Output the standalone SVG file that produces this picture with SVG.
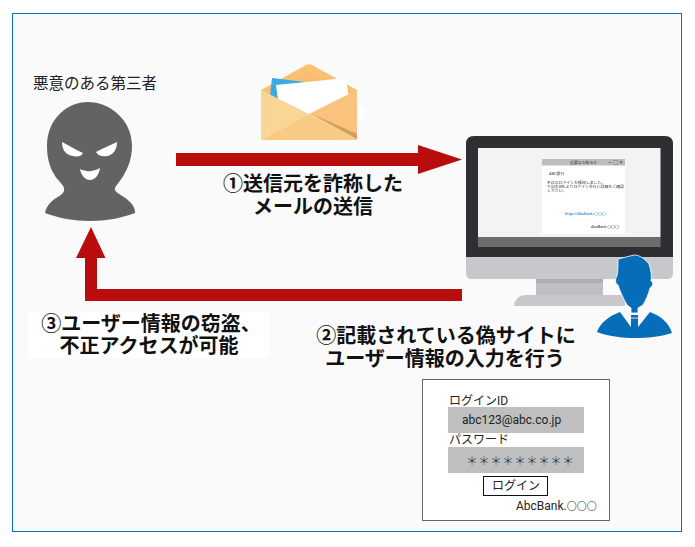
<svg xmlns="http://www.w3.org/2000/svg" width="695" height="547" viewBox="0 0 695 547">
<defs>
<style>
text{font-family:"Roboto","Noto Sans CJK JP",sans-serif;fill:#222}
.lab{font-size:20px;font-weight:700;text-anchor:middle;fill:#111}
.mini{font-size:3.900px;fill:#333}
.form{font-size:12px}
.circ{font-size:10px;font-weight:300}
.red{fill:#b90d0d}
.fld{fill:#bfbfbf}
</style>
<filter id="soft" x="-5%" y="-5%" width="110%" height="110%"><feGaussianBlur stdDeviation="0.3"/></filter>
</defs>
<rect width="695" height="547" fill="#fff"/>
<rect x="12.5" y="13.5" width="669" height="518" fill="#fafafa" stroke="#0a70b8" stroke-width="1"/>

<g id="connectors">
<path class="red" d="M176 153H418V145L462 159.500L418 174V166H176Z"/>
<path class="red" d="M462 289H97V258H105.500L91 227L76 258H85V301H462Z"/>
</g>

<g id="attacker">
<text x="33" y="89" font-size="15.500">悪意のある第三者</text>
<path fill="#636363" d="M88 102C109 102 132 119 132 146C132 160 127 170 122 178C118 184 114 187 115 190C117 194 126 197 131 203C134 206 135 210 135 213C122 218 106 221 90 221C74 221 58 218 45 213C46 207 50 202 56 198C61 195 65 193 64 188C63 184 57 180 54 174C49 166 47 156 47 146C47 119 67 102 88 102Z"/>
<path fill="#fff" d="M62 142C68 145 76 150 83 153C81 157 77 157 73 156C66 155 62 150 62 142Z"/>
<path fill="#fff" d="M117 142C110 145 102 149 96 152C98 156 103 157 107 156C113 155 117 150 117 142Z"/>
<path fill="#fff" d="M80 169C86 172 93 172 100 168C99 175 95 180 90 180C85 180 81 175 80 169Z"/>
</g>

<g id="envelope">
<path fill="#fac172" d="M261 90L306 65C308 64 310 64 312 65L357 90V100H261Z"/>
<path fill="#f8bd6e" d="M285 84L309 72L335 84V100H285Z"/>
<path fill="#3aa9e4" d="M272 78L322 84L312 120L270 96Z"/>
<path fill="#fff" d="M276 85L346 78L349 100L308 125L279 108Z"/>
<path fill="#fbd595" d="M261 90L309 114L261 140Z"/>
<path fill="#f9c27d" d="M357 90V140L309 114Z"/>
<path fill="#f9ca84" d="M261 140L309 114L357 140Z"/>
<path fill="#cf9e60" d="M312 114L357 134V139Z"/>
<ellipse cx="362" cy="113" rx="5" ry="7" fill="#fff"/>
</g>

<g id="label-send">
<text class="lab" x="313" y="191">①送信元を詐称した</text>
<text class="lab" x="313" y="214">メールの送信</text>
</g>

<g id="computer">
<path fill="#c8c7cc" d="M466 257H673V273Q673 279 667 279H472Q466 279 466 273Z"/>
<path fill="#2f2e33" d="M474 136H665Q673 136 673 144V257H466V144Q466 136 474 136Z"/>
<rect x="478" y="148" width="182.500" height="89" fill="#f3f3f3"/>
<rect x="478" y="237" width="182.500" height="10" fill="#6d6d6d"/>
<path fill="#bfbec3" d="M536 279H603V295H536Z"/>
<rect x="536" y="279" width="67" height="4" fill="#aeadb2"/>
<path fill="#c8c7cc" d="M525 295H625V306H514Q515 296 525 295Z"/>
<g id="mail-window">
<rect x="542" y="159" width="83" height="75" fill="#fff"/>
<rect x="542" y="159" width="83" height="6.500" fill="#bdbdbd"/>
<g filter="url(#soft)">
<text class="mini" x="570" y="163.800">重要なお知らせ</text>
<text class="mini" x="608" y="164" style="font-size:5px">― □ ✕</text>
<text class="mini" x="549" y="175">ABC銀行</text>
<text class="mini" x="547" y="184">不正なログインを検知しました。</text>
<text class="mini" x="547" y="187.800">下記のURLよりログインを行い詳細をご確認</text>
<text class="mini" x="547" y="191.600">ください。</text>
<text class="mini" x="565" y="215" style="fill:#1a70b8">https://AbcBank.〇〇〇</text>
<text class="mini" x="591" y="228">AbcBank.〇〇〇</text>
</g>
</g>
</g>

<g id="user">
<path fill="#066eb8" stroke="#fff" stroke-width="0.800" d="M618 259L634 255C640 255 645 259 649 264C651 270 652 276 651 281C654 282 653 286 650 288C649 293 646 300 643 305L638 308V313H631V308L627 305C623 298 620 291 618 285C615 284 615 278 617 276C618 271 618 265 618 259Z"/>
<path fill="#066eb8" d="M620 312L631 327V315H638V327L650 312C661 316 669 323 672 333C660 337 647 338 634 338C622 338 608 336 597 332C600 323 609 316 620 312Z"/>
<path fill="none" stroke="#fff" stroke-width="0.800" d="M631 318H638"/>
</g>

<g id="label-theft">
<rect x="28" y="312" width="241" height="46" fill="#fff"/>
<text class="lab" x="151" y="331">③ユーザー情報の窃盗、</text>
<text class="lab" x="149" y="353">不正アクセスが可能</text>
</g>

<g id="label-enter">
<text class="lab" x="446" y="343">②記載されている偽サイトに</text>
<text class="lab" x="445" y="366">ユーザー情報の入力を行う</text>
</g>

<g id="login-form">
<rect x="422.500" y="379.500" width="187" height="141" fill="#fff" stroke="#666" stroke-width="1"/>
<text class="form" x="449" y="405">ログインID</text>
<rect class="fld" x="448" y="407" width="136" height="26"/>
<text class="form" x="462" y="424">abc123@abc.co.jp</text>
<text class="form" x="449" y="444">パスワード</text>
<rect class="fld" x="448" y="447" width="136" height="26"/>
<text x="466" y="466" font-size="12" font-weight="300" textLength="108" style="fill:#333">＊＊＊＊＊＊＊＊＊</text>
<rect x="483.500" y="476.500" width="64" height="19" fill="#fff" stroke="#111" stroke-width="1"/>
<text class="form" x="492" y="490">ログイン</text>
<text class="form" x="516" y="510">AbcBank.<tspan class="circ">〇〇〇</tspan></text>
</g>
</svg>
